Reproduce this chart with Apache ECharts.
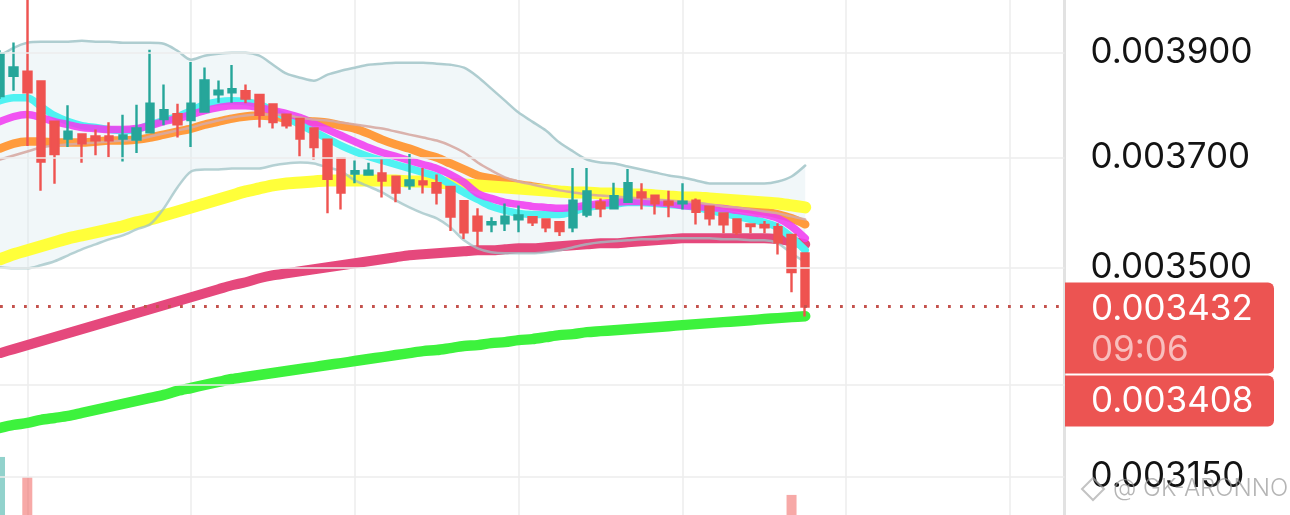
<!DOCTYPE html>
<html>
<head>
<meta charset="utf-8">
<script src="https://cdn.jsdelivr.net/npm/echarts@6/dist/echarts.min.js"></script>
<style>html,body{margin:0;padding:0;background:#fff;}#c{width:1290px;height:515px;}</style>
</head>
<body>
<div id="c"></div>
<script>
// All prices are in millionths (3900 = 0.003900)
const categories = Array.from({length: 79}, (_, i) => String(i + 1));

// [open, close, low, high]
const candles = [
  [3816,3898,3810,3905],[3855,3871,3826,3920],[3863,3823,3721,4044],[3844,3692,3638,3844],
  [3767,3706,3651,3767],[3735,3748,3719,3798],[3743,3726,3690,3743],[3739,3732,3704,3752],
  [3739,3732,3700,3766],[3735,3741,3692,3780],[3733,3754,3708,3799],[3747,3801,3747,3906],
  [3772,3789,3760,3838],[3781,3762,3737,3801],[3770,3801,3719,3882],[3786,3846,3786,3871],
  [3819,3826,3803,3846],[3823,3829,3803,3876],[3825,3811,3802,3838],[3818,3780,3756,3818],
  [3800,3766,3754,3800],[3780,3760,3754,3780],[3772,3735,3702,3772],[3754,3719,3696,3754],
  [3733,3660,3597,3733],[3698,3635,3604,3698],[3670,3674,3652,3694],[3668,3675,3668,3690],
  [3670,3657,3626,3696],[3664,3635,3617,3664],[3648,3657,3640,3706],[3655,3650,3633,3680],
  [3652,3635,3613,3668],[3645,3591,3565,3645],[3619,3563,3551,3619],[3591,3566,3538,3606],
  [3577,3581,3563,3590],[3579,3591,3565,3615],[3586,3593,3563,3611],[3590,3581,3574,3590],
  [3586,3572,3563,3586],[3581,3565,3556,3581],[3572,3620,3563,3680],[3595,3637,3590,3680],
  [3617,3606,3590,3624],[3606,3628,3606,3653],[3618,3652,3618,3678],[3635,3626,3604,3652],
  [3629,3615,3595,3629],[3618,3613,3590,3638],[3615,3618,3604,3652],[3620,3600,3577,3624],
  [3609,3588,3575,3609],[3597,3577,3561,3597],[3586,3563,3558,3586],[3577,3574,3561,3577],
  [3576,3572,3561,3583],[3572,3545,3523,3579],[3558,3492,3457,3558],[3525,3432,3415,3525]
];

const volumes = [570,260,515,390,280,150,140,110,120,130,150,300,160,140,260,240,110,140,100,150,
  140,100,170,160,330,280,110,90,150,140,170,120,150,260,300,220,100,150,130,90,
  100,120,320,250,130,160,200,120,110,120,130,140,150,160,170,100,110,250,466,380];
// visible window of the volume pane (the pane is cut off by the picture's bottom edge)
const volumeAxisMin = 411;
const volumeAxisMax = 1000;

const maCyan = [3807.0,3812.8,3812.8,3795.6,3778.5,3767.1,3759.5,3755.8,3752.0,3750.1,
  3752.0,3761.4,3769.0,3776.6,3788.0,3799.4,3805.1,3807.0,3805.1,3799.4,
  3788.0,3774.7,3761.4,3748.2,3735.0,3721.9,3710.8,3701.5,3694.0,3686.6,
  3679.2,3671.8,3664.4,3649.7,3635.1,3622.3,3609.6,3602.3,3596.9,3595.1,
  3595.1,3595.1,3600.5,3607.8,3611.4,3613.2,3616.8,3616.8,3615.0,3613.2,
  3611.4,3607.8,3602.3,3596.9,3591.5,3586.1,3580.7,3571.7,3553.8,3530.7];

const maMagenta = [3767.1,3776.6,3780.4,3774.7,3767.1,3761.4,3755.8,3753.9,3752.0,3752.0,
  3753.9,3759.5,3767.1,3772.8,3780.4,3788.0,3793.7,3797.5,3797.5,3793.7,
  3788.0,3782.3,3774.7,3763.3,3752.0,3740.7,3729.4,3718.2,3708.9,3701.5,
  3694.0,3686.6,3679.2,3668.1,3653.4,3633.3,3624.1,3616.8,3613.2,3609.6,
  3607.8,3606.0,3607.8,3611.4,3615.0,3616.8,3618.6,3618.6,3616.8,3615.0,
  3611.4,3609.6,3607.8,3606.0,3602.3,3598.7,3595.1,3587.9,3573.5,3552.0];

const maOrange = [3716.3,3725.6,3729.4,3729.4,3727.5,3727.5,3727.5,3729.4,3731.3,3731.3,
  3733.1,3736.9,3742.5,3748.2,3753.9,3761.4,3767.1,3772.8,3776.6,3778.5,
  3776.6,3772.8,3769.0,3767.1,3765.2,3759.5,3753.9,3744.4,3733.1,3723.8,
  3716.3,3707.0,3699.6,3688.5,3677.4,3666.3,3660.8,3655.2,3649.7,3646.1,
  3642.4,3638.8,3635.1,3633.3,3631.4,3629.6,3627.8,3626.0,3624.1,3622.3,
  3620.5,3618.6,3615.0,3611.4,3607.8,3604.2,3600.5,3595.1,3587.9,3577.1];

const maYellow = [3514.7,3523.6,3530.7,3537.8,3544.9,3552.0,3557.4,3562.7,3568.1,3573.5,
  3580.7,3586.1,3593.3,3600.5,3607.8,3615.0,3622.3,3629.6,3636.9,3642.4,
  3647.9,3651.6,3653.4,3655.2,3657.1,3657.1,3657.1,3657.1,3657.1,3657.1,
  3655.2,3655.2,3653.4,3651.6,3649.7,3647.9,3646.1,3644.2,3642.4,3640.6,
  3638.8,3636.9,3635.1,3635.1,3633.3,3633.3,3631.4,3631.4,3629.6,3627.8,
  3626.0,3626.0,3624.1,3622.3,3620.5,3618.6,3616.8,3615.0,3611.4,3607.8];

const maCrimson = [3352.5,3359.3,3366.0,3372.8,3379.6,3386.4,3393.2,3400.1,3406.9,3413.8,
  3420.6,3427.5,3434.4,3441.3,3448.2,3455.2,3462.1,3469.1,3474.3,3481.3,
  3486.5,3490.0,3493.6,3497.1,3500.6,3504.1,3507.6,3511.2,3514.7,3518.3,
  3521.8,3523.6,3525.3,3527.1,3528.9,3530.7,3530.7,3532.4,3534.2,3534.2,
  3536.0,3537.8,3539.6,3541.3,3543.1,3543.1,3544.9,3546.7,3548.5,3550.2,
  3552.0,3552.0,3552.0,3552.0,3552.0,3552.0,3552.0,3550.2,3546.7,3541.3];

const maGreen = [3228.6,3233.4,3236.7,3241.6,3244.8,3248.1,3253.0,3257.9,3262.8,3267.7,
  3272.7,3277.6,3282.6,3289.2,3294.1,3299.1,3304.1,3309.1,3312.4,3315.7,
  3319.0,3322.4,3325.7,3329.0,3332.4,3335.7,3339.1,3342.5,3345.8,3349.2,
  3352.5,3355.9,3357.6,3361.0,3364.4,3366.0,3369.4,3371.1,3374.5,3376.2,
  3379.6,3383.0,3384.7,3388.1,3389.8,3391.5,3393.2,3394.9,3396.6,3398.3,
  3400.1,3401.8,3403.5,3405.2,3406.9,3408.6,3410.4,3412.1,3413.8,3415.5];

const bbUpper = [3894.2,3909.8,3919.6,3921.6,3921.6,3921.6,3923.5,3921.6,3921.6,3919.6,
  3919.6,3919.6,3917.6,3903.9,3886.4,3894.2,3898.1,3900.0,3900.0,3894.2,
  3876.6,3859.1,3851.3,3845.5,3857.2,3864.9,3870.8,3876.6,3878.6,3880.5,
  3880.5,3880.5,3878.6,3876.6,3870.8,3853.3,3830.1,3807.0,3784.2,3767.1,
  3750.1,3727.5,3710.8,3695.9,3690.3,3688.5,3682.9,3677.4,3671.8,3666.3,
  3662.6,3657.1,3651.6,3651.6,3651.6,3651.6,3651.6,3655.2,3664.4,3684.7];

const bbMiddle = [3695.9,3703.3,3710.8,3718.2,3721.9,3723.8,3725.6,3727.5,3729.4,3731.3,
  3733.1,3738.8,3744.4,3750.1,3755.8,3763.3,3769.0,3774.7,3778.5,3780.4,
  3780.4,3778.5,3774.7,3770.9,3769.0,3765.2,3761.4,3757.6,3753.9,3748.2,
  3742.5,3736.9,3731.3,3721.9,3708.9,3690.3,3675.5,3662.6,3655.2,3649.7,
  3644.2,3638.8,3635.1,3631.4,3629.6,3627.8,3626.0,3624.1,3622.3,3620.5,
  3618.6,3616.8,3613.2,3609.6,3607.8,3604.2,3600.5,3596.9,3591.5,3586.1];

const bbLower = [3500.6,3498.8,3498.8,3504.1,3511.2,3521.8,3532.4,3541.3,3550.2,3557.3,
  3568.1,3577.1,3605.9,3644.2,3673.7,3677.4,3677.4,3679.2,3679.2,3679.2,
  3684.7,3688.5,3690.3,3688.5,3681.1,3673.7,3657.1,3646.1,3635.1,3620.5,
  3607.8,3596.9,3587.9,3571.7,3548.5,3534.2,3527.1,3525.3,3525.3,3525.3,
  3527.1,3530.7,3536.0,3541.3,3544.9,3546.7,3548.5,3550.2,3550.2,3552.0,
  3552.0,3552.0,3552.0,3550.2,3550.2,3548.5,3548.5,3543.1,3525.3,3509.4];

const yTicks = [3900, 3700, 3500, 3300, 3150];
const hiddenTickLabels = [3300];
const lastPrice = 3432;
const countdown = '09:06';
const maLastLabel = 3408;
const watermark = '@ GK-ARONNO';

const fmt = v => (v / 1e6).toFixed(6);
const UP = '#26a69a', DOWN = '#ef5350';
const FONT = 'Inter, "Noto Sans", sans-serif';
const LABEL_SIZE = 35;

const chart = echarts.init(document.getElementById('c'), null, {renderer: 'canvas'});

function maSeries(name, data, color, width, opacity) {
  return {
    name, type: 'line', data, xAxisIndex: 0, yAxisIndex: 0,
    symbol: 'none', showSymbol: false, smooth: 0.3, silent: true,
    lineStyle: {color, width, opacity: opacity == null ? 1 : opacity, cap: 'round', join: 'round'},
    z: 2
  };
}

const option = {
  animation: false,
  backgroundColor: '#ffffff',
  grid: [
    {left: -3, right: 225.5, top: 0, bottom: 0, containLabel: false},
    {left: -3, right: 225.5, top: 300, bottom: 0, containLabel: false}
  ],
  xAxis: [
    {
      type: 'category', data: categories, boundaryGap: false, gridIndex: 0,
      axisLine: {show: false}, axisTick: {show: false}, axisLabel: {show: false},
      splitLine: {show: true, interval: (i) => (i - 2) % 12 === 0,
        lineStyle: {color: '#ececec', width: 1.5}}
    },
    {
      type: 'category', data: categories, boundaryGap: false, gridIndex: 1,
      axisLine: {show: false}, axisTick: {show: false}, axisLabel: {show: false},
      splitLine: {show: false}
    }
  ],
  yAxis: [
    {
      type: 'log', logBase: 10, min: 3090, max: 4005, gridIndex: 0, position: 'right',
      axisLine: {show: true, lineStyle: {color: '#e2e2e2', width: 3}},
      axisTick: {show: false}, axisLabel: {show: false}, splitLine: {show: false}
    },
    {
      type: 'value', min: volumeAxisMin, max: volumeAxisMax, gridIndex: 1, show: false,
      splitLine: {show: false}
    }
  ],
  series: [
    {
      name: 'grid', type: 'line', data: [], xAxisIndex: 0, yAxisIndex: 0, silent: true, z: 1,
      markLine: {
        silent: true, symbol: ['none', 'none'], animation: false,
        lineStyle: {color: '#ececec', width: 1.5, type: 'solid'},
        label: {
          show: true, position: 'end', distance: 26, color: '#131313',
          fontSize: LABEL_SIZE, fontFamily: FONT, formatter: p => fmt(p.value)
        },
        data: yTicks.map(v => ({yAxis: v, label: {show: hiddenTickLabels.indexOf(v) < 0}}))
      }
    },
    {
      name: 'band', type: 'custom', xAxisIndex: 0, yAxisIndex: 0, silent: true, z: 1, clip: true,
      data: [[0, bbUpper[0]]],
      renderItem: (params, api) => {
        const pts = [];
        for (let i = 0; i < bbUpper.length; i++) pts.push(api.coord([i, bbUpper[i]]));
        for (let i = bbLower.length - 1; i >= 0; i--) pts.push(api.coord([i, bbLower[i]]));
        return {type: 'polygon', shape: {points: pts}, style: {fill: 'rgba(214,232,236,0.34)'}};
      }
    },
    {
      name: 'volume', type: 'bar', xAxisIndex: 1, yAxisIndex: 1, barWidth: 10, silent: true, z: 1,
      data: volumes.map((v, i) => ({
        value: v,
        itemStyle: {color: candles[i][1] >= candles[i][0] ? 'rgba(38,166,154,0.5)' : 'rgba(239,83,80,0.5)'}
      }))
    },
    maSeries('MA green', maGreen, '#3df23d', 10.5),
    maSeries('MA crimson', maCrimson, '#e5487c', 10),
    maSeries('MA orange', maOrange, '#ff9b3d', 8.5),
    maSeries('MA yellow', maYellow, '#ffff3a', 12),
    maSeries('MA cyan', maCyan, '#4ff2f2', 7.5),
    maSeries('MA magenta', maMagenta, '#f03cf0', 7.5, 0.88),
    maSeries('BB lower', bbLower, '#9fc3c6', 2.5, 0.75),
    maSeries('BB upper', bbUpper, '#a6c8cb', 2.5, 0.9),
    maSeries('BB basis', bbMiddle, '#d7aaa3', 2.5, 0.9),
    {
      name: 'price', type: 'candlestick', xAxisIndex: 0, yAxisIndex: 0,
      data: candles, barWidth: 8, z: 3,
      itemStyle: {color: UP, color0: DOWN, borderColor: UP, borderColor0: DOWN, borderWidth: 2.4},
      markLine: {
        silent: true, symbol: ['none', 'none'], animation: false,
        lineStyle: {color: '#c4524d', width: 2.8, type: [2.8, 9.2]},
        label: {show: false},
        data: [{yAxis: lastPrice}]
      }
    }
  ]
};

chart.setOption(option);

const py = chart.convertToPixel({yAxisIndex: 0}, lastPrice);
const boxX = 1065, boxW = 209, textX = 1091;
const labelFont = LABEL_SIZE + 'px ' + FONT;
chart.setOption({
  graphic: [
    {type: 'rect', z: 100, shape: {x: boxX, y: py - 24, width: boxW, height: 91, r: [0, 6, 6, 0]},
      style: {fill: '#ec5452'}},
    {type: 'rect', z: 100, shape: {x: boxX, y: py + 69, width: boxW, height: 51, r: [0, 6, 6, 0]},
      style: {fill: '#ec5452'}},
    {type: 'text', z: 101, style: {text: fmt(lastPrice), x: textX, y: py + 3, fill: '#ffffff',
      font: labelFont, verticalAlign: 'middle', align: 'left'}},
    {type: 'text', z: 101, style: {text: countdown, x: textX, y: py + 44, fill: 'rgba(255,255,255,0.62)',
      font: labelFont, verticalAlign: 'middle', align: 'left'}},
    {type: 'text', z: 101, style: {text: fmt(maLastLabel), x: textX, y: py + 95, fill: '#ffffff',
      font: labelFont, verticalAlign: 'middle', align: 'left'}},
    {type: 'polygon', z: 102, shape: {points: [[1093, 478], [1104, 489], [1093, 500], [1082, 489]]},
      style: {fill: 'none', stroke: 'rgba(170,170,170,0.7)', lineWidth: 2}},
    {type: 'text', z: 102, style: {text: watermark, x: 1113, y: 489, fill: 'rgba(150,150,150,0.7)',
      font: '300 24px ' + FONT, verticalAlign: 'middle', align: 'left'}}
  ]
});
</script>
</body>
</html>
